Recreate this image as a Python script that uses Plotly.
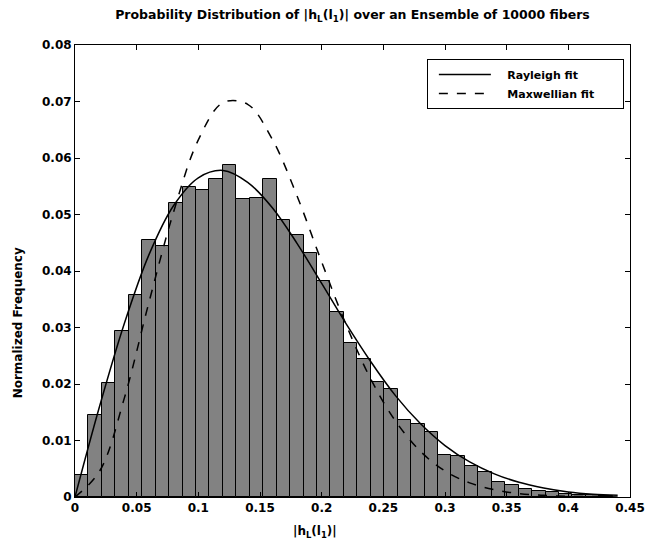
import plotly.graph_objects as go

# ---- data ----
BIN_WIDTH = 0.0109
BAR_HEIGHTS = [0.0039, 0.0145, 0.0202, 0.0294, 0.0358, 0.0455, 0.0444, 0.0520,
               0.0548, 0.0544, 0.0562, 0.0588, 0.0527, 0.0530, 0.0563, 0.0491,
               0.0463, 0.0431, 0.0383, 0.0327, 0.0272, 0.0245, 0.0204, 0.0191,
               0.0137, 0.0129, 0.0115, 0.0074, 0.0072, 0.0055, 0.0044, 0.0027,
               0.0021, 0.0014, 0.0011, 0.0008, 0.0006, 0.0004, 0.0004, 0.0002]

CURVE_X = [0.00, 0.02, 0.04, 0.06, 0.08, 0.10, 0.12, 0.14, 0.16, 0.18, 0.20, 0.22,
           0.24, 0.26, 0.28, 0.30, 0.32, 0.34, 0.36, 0.38, 0.40, 0.42, 0.44]
RAYLEIGH_FIT = [0.0000, 0.0161, 0.0307, 0.0429, 0.0516, 0.0565, 0.0578, 0.0557,
                0.0512, 0.0449, 0.0378, 0.0306, 0.0239, 0.0179, 0.0130, 0.0091,
                0.0062, 0.0041, 0.0026, 0.0016, 0.0009, 0.0005, 0.0003]
MAXWELL_FIT = [0.0000, 0.0046, 0.0175, 0.0345, 0.0505, 0.0632, 0.0698, 0.0695,
               0.0633, 0.0533, 0.0416, 0.0304, 0.0208, 0.0134, 0.0081, 0.0046,
               0.0025, 0.0013, 0.0006, 0.0003, 0.0001, 0.0001, 0.0000]

X_TICKS = [0, 0.05, 0.1, 0.15, 0.2, 0.25, 0.3, 0.35, 0.4, 0.45]
X_TICK_LABELS = ["0", "0.05", "0.1", "0.15", "0.2", "0.25", "0.3", "0.35", "0.4", "0.45"]
Y_TICKS = [0, 0.01, 0.02, 0.03, 0.04, 0.05, 0.06, 0.07, 0.08]
Y_TICK_LABELS = ["0", "0.01", "0.02", "0.03", "0.04", "0.05", "0.06", "0.07", "0.08"]

TITLE = "Probability Distribution of |h<sub>L</sub>(l<sub>1</sub>)| over an Ensemble of 10000 fibers"
X_LABEL = "|h<sub>L</sub>(l<sub>1</sub>)|"
Y_LABEL = "Normalized Frequency"
PAD = "\u00a0" * 3
TAIL = "\u00a0" * 6
LEGEND_NAMES = [PAD + "Rayleigh fit" + TAIL, PAD + "Maxwellian fit" + TAIL]

FONT = "DejaVu Sans"


def f(size):
    return dict(family=FONT, size=size, color="black", weight="bold")


fig = go.Figure()
fig.add_trace(go.Bar(
    x0=BIN_WIDTH / 2, dx=BIN_WIDTH, y=BAR_HEIGHTS, width=BIN_WIDTH,
    marker=dict(color="#828282", line=dict(color="black", width=1)),
    showlegend=False, hoverinfo="skip"))
fig.add_trace(go.Scatter(
    x=CURVE_X, y=RAYLEIGH_FIT, mode="lines", name=LEGEND_NAMES[0],
    line=dict(color="black", width=1.5, shape="spline")))
fig.add_trace(go.Scatter(
    x=CURVE_X, y=MAXWELL_FIT, mode="lines", name=LEGEND_NAMES[1],
    line=dict(color="black", width=1.5, dash="dash", shape="spline")))

axis_common = dict(showline=True, linecolor="black", linewidth=1, mirror="ticks",
                   ticks="inside", ticklen=5, tickcolor="black", showgrid=False,
                   zeroline=False, tickfont=f(12))

fig.update_layout(
    width=657, height=550,
    margin=dict(l=75, r=24, t=45, b=53),
    paper_bgcolor="white", plot_bgcolor="white",
    bargap=0,
    font=dict(family=FONT, color="black"),
    title=dict(text=TITLE, x=0.5, xref="paper", y=1 - 15 / 550, yanchor="middle",
               font=f(12.5)),
    xaxis=dict(range=[0, 0.45], tickvals=X_TICKS, ticktext=X_TICK_LABELS, **axis_common),
    yaxis=dict(range=[0, 0.08], tickvals=Y_TICKS, ticktext=Y_TICK_LABELS, **axis_common),
    legend=dict(x=0.634, y=0.969, xanchor="left", yanchor="top",
                bgcolor="white", bordercolor="black", borderwidth=1,
                font=f(11), indentation=6, itemwidth=52, tracegroupgap=2),
    annotations=[
        dict(text=X_LABEL, xref="paper", yref="paper", x=0.432, y=-0.055,
             xanchor="center", yanchor="top", showarrow=False, font=f(12)),
        dict(text=Y_LABEL, xref="paper", yref="paper", x=-0.102, y=0.385,
             xanchor="center", yanchor="middle", textangle=-90, showarrow=False,
             font=f(12)),
    ],
)

fig.write_html("out.html")
